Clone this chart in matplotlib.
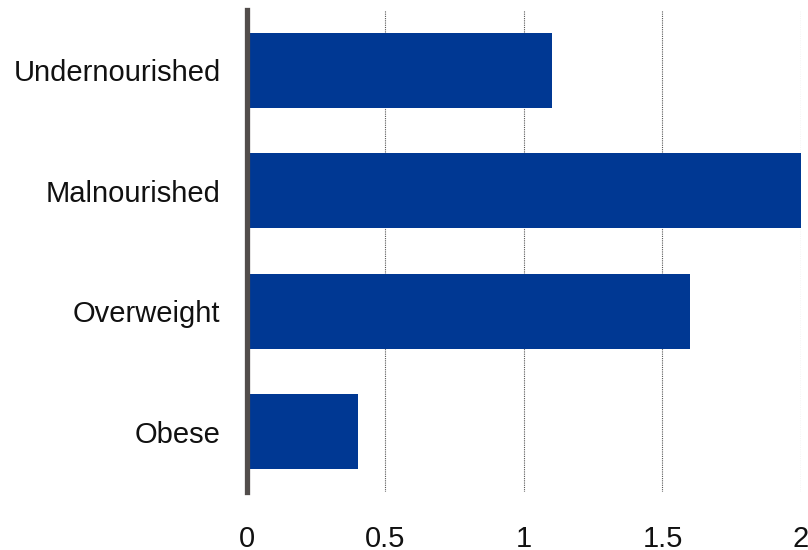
import matplotlib.pyplot as plt

categories = ['Undernourished', 'Malnourished', 'Overweight', 'Obese']
values = [1.1, 2.0, 1.6, 0.4]
xticks = [0, 0.5, 1, 1.5, 2]
xtick_labels = ['0', '0.5', '1', '1.5', '2']

plt.rcParams['font.family'] = ['Liberation Sans', 'DejaVu Sans']

fig = plt.figure(figsize=(8.08, 5.5), dpi=100)
ax = fig.add_axes([0.3057, 0.1055, 0.6856, 0.8763])

ax.barh(range(len(categories)), values, height=0.62, color='#003893', zorder=2)
ax.set_ylim(len(categories) - 0.5, -0.5)
ax.set_xlim(0, 2)

ax.set_yticks(range(len(categories)))
ax.set_yticklabels(categories, fontsize=21, color='#111111')
ax.set_xticks(xticks)
ax.set_xticklabels(xtick_labels, fontsize=21, color='#111111')
ax.tick_params(axis='both', length=0)
ax.tick_params(axis='x', pad=24)
ax.tick_params(axis='y', pad=19)

ax.grid(axis='x', linestyle=(0, (1, 1)), color='#555555', linewidth=0.8, zorder=1)
for side in ['top', 'right', 'bottom']:
    ax.spines[side].set_visible(False)
ax.spines['left'].set_linewidth(3.8)
ax.spines['left'].set_color('#524d4b')
ax.spines['left'].set_zorder(3)

fig.savefig('out.png', dpi=100)
